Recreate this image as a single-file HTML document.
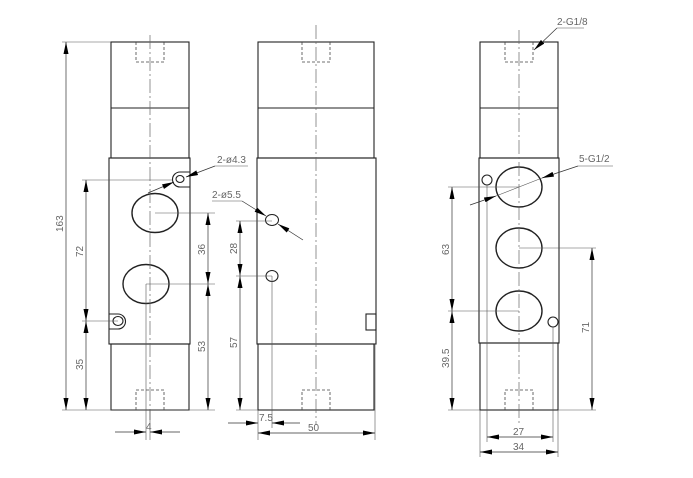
<!DOCTYPE html>
<html><head><style>
html,body{margin:0;padding:0;background:#fff;}
svg{display:block;}
text{font-family:"Liberation Sans",sans-serif;font-size:10px;fill:#666;}
</style></head><body>
<svg width="693" height="478" viewBox="0 0 693 478" xmlns="http://www.w3.org/2000/svg">
<defs>
<marker id="a" viewBox="0 0 12 5" refX="12" refY="2.5" markerWidth="12" markerHeight="5" markerUnits="userSpaceOnUse" orient="auto-start-reverse"><path d="M0,0L12,2.5L0,5z" fill="#000"/></marker>
</defs>
<g fill="none" stroke="#222" stroke-width="1.1">
<rect x="111" y="42" width="78" height="116"/>
<line x1="111" y1="108" x2="189" y2="108"/>
<rect x="109" y="158" width="81" height="186"/>
<rect x="111" y="344" width="78" height="66"/>
<ellipse cx="155" cy="213" rx="23" ry="19.5" stroke-width="1.4"/>
<ellipse cx="146" cy="284" rx="23" ry="19.5" stroke-width="1.4"/>
<path d="M190,172 H180 A7.5,7.5 0 0 0 180,187 H190"/>
<ellipse cx="180" cy="179" rx="4" ry="3.5"/>
<path d="M109,314 H118 A7.5,7.5 0 0 1 118,329 H109"/>
<ellipse cx="118" cy="321" rx="5" ry="4.5"/>
<rect x="258" y="42" width="116" height="116"/>
<line x1="258" y1="108" x2="374" y2="108"/>
<rect x="257" y="158" width="119" height="186"/>
<rect x="258" y="344" width="116" height="66"/>
<ellipse cx="272" cy="220" rx="6.5" ry="5.5"/>
<ellipse cx="272" cy="276" rx="6" ry="5.5"/>
<rect x="366" y="314" width="10" height="16"/>
<rect x="480" y="42" width="78" height="116"/>
<line x1="480" y1="108" x2="558" y2="108"/>
<rect x="479" y="158" width="80" height="185"/>
<rect x="480" y="343" width="78" height="67"/>
<ellipse cx="519" cy="187" rx="23" ry="20" stroke-width="1.4"/>
<ellipse cx="519" cy="248" rx="23" ry="20" stroke-width="1.4"/>
<ellipse cx="519" cy="311" rx="23" ry="20" stroke-width="1.4"/>
<circle cx="487" cy="180" r="5"/>
<circle cx="553" cy="322" r="5"/>
</g>
<g fill="none" stroke="#444" stroke-width="0.8" stroke-dasharray="3,2">
<path d="M136,42 V62 H164 V42"/><path d="M136,410 V390 H164 V410"/>
<path d="M302,42 V62 H330 V42"/><path d="M302,410 V390 H330 V410"/>
<path d="M505,42 V62 H533 V42"/><path d="M505,410 V390 H533 V410"/>
</g>
<g stroke="#666" stroke-width="0.7" stroke-dasharray="14,3,2,3">
<line x1="150" y1="35" x2="150" y2="420"/>
<line x1="316" y1="25" x2="316" y2="425"/>
<line x1="519" y1="30" x2="519" y2="425"/>
</g>
<g stroke="#555" stroke-width="0.6" fill="none">
<line x1="62" y1="42" x2="111" y2="42"/><line x1="62" y1="410" x2="215" y2="410"/>
<line x1="82" y1="180" x2="172" y2="180"/><line x1="82" y1="321" x2="118" y2="321"/>
<line x1="155" y1="213" x2="215" y2="213"/><line x1="146" y1="284" x2="215" y2="284"/>
<line x1="146" y1="284" x2="146" y2="440"/><line x1="150" y1="410" x2="150" y2="440"/>
<line x1="236" y1="221" x2="272" y2="221"/><line x1="236" y1="276" x2="272" y2="276"/>
<line x1="236" y1="410" x2="258" y2="410"/>
<line x1="258" y1="410" x2="258" y2="440"/><line x1="272" y1="276" x2="272" y2="428"/>
<line x1="375" y1="344" x2="375" y2="440"/>
<line x1="448" y1="187" x2="519" y2="187"/><line x1="448" y1="311" x2="519" y2="311"/>
<line x1="448" y1="410" x2="480" y2="410"/>
<line x1="519" y1="248" x2="596" y2="248"/><line x1="558" y1="410" x2="596" y2="410"/>
<line x1="487" y1="185" x2="487" y2="442"/><line x1="553" y1="327" x2="553" y2="442"/>
<line x1="480" y1="410" x2="480" y2="457"/><line x1="558" y1="410" x2="558" y2="457"/>
</g>
<g stroke="#333" stroke-width="0.7" fill="none" marker-start="url(#a)" marker-end="url(#a)">
<line x1="66" y1="42" x2="66" y2="410"/>
<line x1="86" y1="180" x2="86" y2="321"/>
<line x1="86" y1="321" x2="86" y2="410"/>
<line x1="208" y1="213" x2="208" y2="284"/>
<line x1="208" y1="284" x2="208" y2="410"/>
<line x1="240" y1="221" x2="240" y2="276"/>
<line x1="240" y1="276" x2="240" y2="410"/>
<line x1="258" y1="433" x2="375" y2="433"/>
<line x1="452" y1="187" x2="452" y2="311"/>
<line x1="452" y1="311" x2="452" y2="410"/>
<line x1="592" y1="248" x2="592" y2="410"/>
<line x1="487" y1="437" x2="553" y2="437"/>
<line x1="480" y1="452" x2="558" y2="452"/>
</g>
<g stroke="#333" stroke-width="0.7" fill="none" marker-end="url(#a)">
<line x1="115" y1="432" x2="146" y2="432"/>
<line x1="180" y1="432" x2="150" y2="432"/>
<line x1="228" y1="423" x2="258" y2="423"/>
<line x1="300" y1="423" x2="272" y2="423"/>
<line x1="215" y1="166" x2="186" y2="177"/>
<line x1="148" y1="193" x2="174" y2="182"/>
<line x1="242" y1="201" x2="266" y2="216"/>
<line x1="303" y1="240" x2="278" y2="224"/>
<line x1="557" y1="28" x2="534" y2="50"/>
<line x1="578" y1="166" x2="542" y2="178"/>
<line x1="470" y1="205" x2="496" y2="196"/>
</g>
<g stroke="#555" stroke-width="0.6">
<line x1="215" y1="166" x2="248" y2="166"/>
<line x1="212" y1="201" x2="242" y2="201"/>
<line x1="557" y1="28" x2="584" y2="28"/>
<line x1="578" y1="166" x2="613" y2="166"/>
<line x1="542" y1="178" x2="496" y2="196"/>
</g>
<text x="217" y="163">2-ø4.3</text>
<text x="212" y="198">2-ø5.5</text>
<text x="557" y="25">2-G1/8</text>
<text x="579" y="162">5-G1/2</text>
<text x="146" y="430" font-size="9">4</text>
<text x="259" y="421" font-size="9">7.5</text>
<text x="308" y="431">50</text>
<text x="513" y="435">27</text>
<text x="513" y="450">34</text>
<g font-size="10">
<text transform="translate(63,232) rotate(-90)">163</text>
<text transform="translate(83,257) rotate(-90)">72</text>
<text transform="translate(83,370) rotate(-90)">35</text>
<text transform="translate(205,255) rotate(-90)">36</text>
<text transform="translate(205,352) rotate(-90)">53</text>
<text transform="translate(237,254) rotate(-90)">28</text>
<text transform="translate(237,348) rotate(-90)">57</text>
<text transform="translate(449,255) rotate(-90)">63</text>
<text transform="translate(449,368) rotate(-90)">39.5</text>
<text transform="translate(589,333) rotate(-90)">71</text>
</g>
</svg>
</body></html>
